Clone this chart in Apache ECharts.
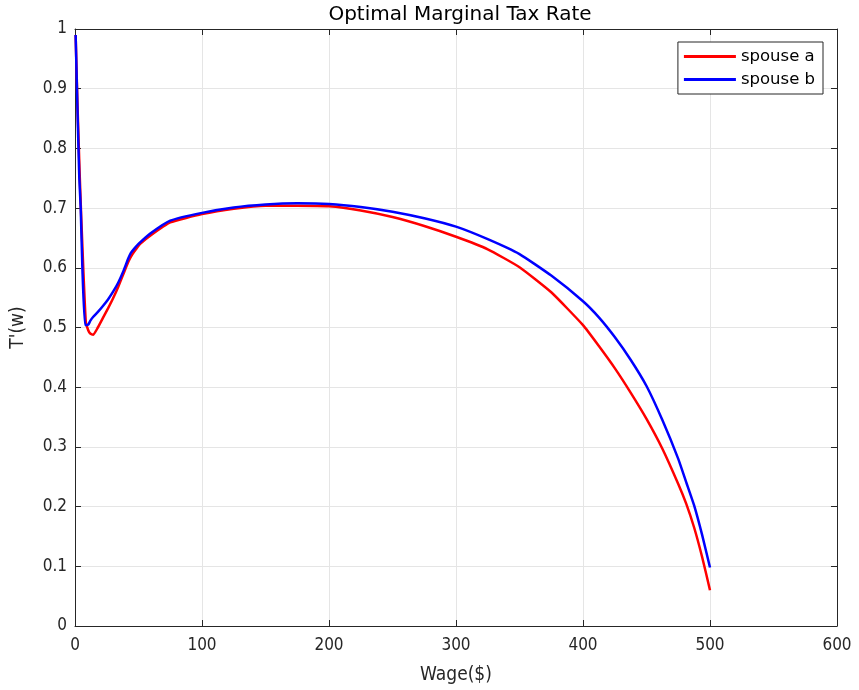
<!DOCTYPE html>
<html>
<head>
<meta charset="utf-8">
<script src="https://cdn.jsdelivr.net/npm/echarts@6/dist/echarts.min.js"></script>
<style>html,body{margin:0;padding:0;background:#fff}#c{width:859px;height:690px}</style>
</head>
<body>
<div id="c"></div>
<script>
const xTicks = [0, 100, 200, 300, 400, 500, 600];
const yTicks = [0, 0.1, 0.2, 0.3, 0.4, 0.5, 0.6, 0.7, 0.8, 0.9, 1];
const wageA = [0.5, 2, 3.8, 5, 6.5, 8.5, 10.5, 12, 14.4, 18, 22, 26, 30, 34, 38, 42, 45, 48, 51.3, 60, 75, 100, 125, 150, 175, 200, 225, 250, 275, 300, 325, 350, 375, 400, 412.5, 425, 437.5, 450, 462.5, 475, 481.25, 487.5, 493.75, 500];
const spouseA = [0.99, 0.87, 0.75, 0.68, 0.60, 0.51, 0.495, 0.490, 0.488, 0.500, 0.516, 0.532, 0.549, 0.568, 0.589, 0.610, 0.622, 0.631, 0.640, 0.655, 0.676, 0.690, 0.699, 0.704, 0.704, 0.703, 0.696, 0.685, 0.670, 0.652, 0.631, 0.601, 0.559, 0.504, 0.469, 0.432, 0.391, 0.347, 0.297, 0.238, 0.205, 0.165, 0.116, 0.06];
const wageB = [0.5, 2, 3.4, 4.5, 5.8, 7.9, 10.5, 12, 14.4, 18.4, 22, 26, 30, 34, 38, 42, 44, 47, 50, 59, 75, 100, 125, 150, 175, 200, 225, 250, 275, 300, 325, 350, 375, 400, 412.5, 425, 437.5, 450, 462.5, 475, 481.25, 487.5, 493.75, 500];
const spouseB = [0.99, 0.86, 0.75, 0.70, 0.60, 0.504, 0.505, 0.511, 0.518, 0.527, 0.536, 0.547, 0.560, 0.575, 0.594, 0.616, 0.625, 0.633, 0.640, 0.657, 0.679, 0.692, 0.701, 0.706, 0.708, 0.707, 0.702, 0.694, 0.683, 0.669, 0.648, 0.623, 0.587, 0.544, 0.517, 0.484, 0.446, 0.402, 0.345, 0.280, 0.241, 0.202, 0.153, 0.098];

const pairs = (xs, ys) => xs.map((x, i) => [x, ys[i]]);
const axisColor = '#262626';
const tickFont = "'Liberation Sans Narrow', 'DejaVu Sans Condensed', 'Liberation Sans', sans-serif";
const chart = echarts.init(document.getElementById('c'));
chart.setOption({
  animation: false,
  backgroundColor: '#fff',
  title: {
    text: 'Optimal Marginal Tax Rate',
    left: 455, top: 0, textAlign: 'center',
    textStyle: { fontFamily: "'DejaVu Sans', sans-serif", fontSize: 20, fontWeight: 'normal', color: '#000' }
  },
  legend: {
    orient: 'vertical', right: 36, top: 42,
    backgroundColor: '#fff', borderColor: axisColor, borderWidth: 1,
    padding: [6, 8, 6, 6], itemGap: 6,
    itemWidth: 52, itemHeight: 3, icon: 'rect',
    textStyle: { fontFamily: "'DejaVu Sans', sans-serif", fontSize: 16.5, color: '#000' },
    data: ['spouse a', 'spouse b']
  },
  grid: { left: 75, right: 22, top: 29, bottom: 61, containLabel: false },
  xAxis: [{
    type: 'value', min: 0, max: 600, interval: 100,
    name: 'Wage($)', nameLocation: 'middle', nameGap: 40,
    nameTextStyle: { fontFamily: tickFont, fontSize: 19, color: axisColor },
    axisLine: { show: true, lineStyle: { color: axisColor, width: 1 } },
    axisTick: { show: true, inside: true, length: 6, lineStyle: { color: axisColor } },
    axisLabel: { fontFamily: tickFont, fontSize: 17, color: axisColor, margin: 11, formatter: v => String(v) },
    splitLine: { show: true, lineStyle: { color: '#e5e5e5', width: 1 } }
  }, {
    type: 'value', min: 0, max: 600, interval: 100, position: 'top',
    axisLine: { show: true, onZero: false, lineStyle: { color: axisColor, width: 1 } },
    axisTick: { show: true, inside: true, length: 6, lineStyle: { color: axisColor } },
    axisLabel: { show: false }, splitLine: { show: false }
  }],
  yAxis: [{
    type: 'value', min: 0, max: 1, interval: 0.1,
    name: "T'(w)", nameLocation: 'middle', nameGap: 47,
    nameTextStyle: { fontFamily: tickFont, fontSize: 19, color: axisColor },
    axisLine: { show: true, lineStyle: { color: axisColor, width: 1 } },
    axisTick: { show: true, inside: true, length: 6, lineStyle: { color: axisColor } },
    axisLabel: { fontFamily: tickFont, fontSize: 17, color: axisColor, margin: 8,
      formatter: v => String(Math.round(v * 10) / 10) },
    splitLine: { show: true, lineStyle: { color: '#e5e5e5', width: 1 } }
  }, {
    type: 'value', min: 0, max: 1, interval: 0.1, position: 'right',
    axisLine: { show: true, onZero: false, lineStyle: { color: axisColor, width: 1 } },
    axisTick: { show: true, inside: true, length: 6, lineStyle: { color: axisColor } },
    axisLabel: { show: false }, splitLine: { show: false }
  }],
  series: [{
    name: 'spouse a', type: 'line', data: pairs(wageA, spouseA),
    showSymbol: false, symbol: 'none', color: '#ff0000', smooth: 0.15,
    lineStyle: { width: 2.5, color: '#ff0000' }, z: 3
  }, {
    name: 'spouse b', type: 'line', data: pairs(wageB, spouseB),
    showSymbol: false, symbol: 'none', color: '#0000ff', smooth: 0.15,
    lineStyle: { width: 2.5, color: '#0000ff' }, z: 4
  }]
});
</script>
</body>
</html>
